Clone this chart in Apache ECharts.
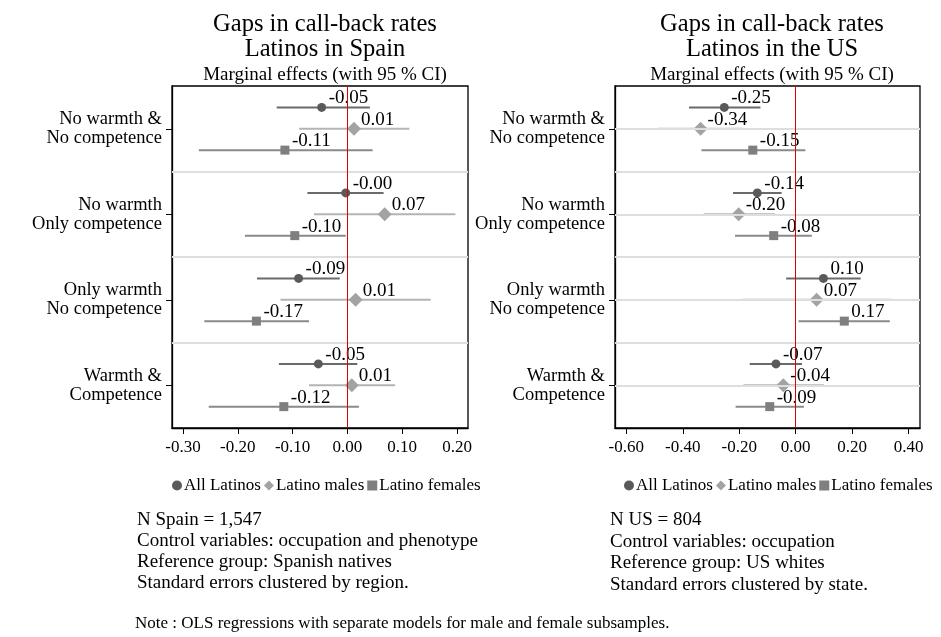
<!DOCTYPE html>
<html><head><meta charset="utf-8">
<script src="https://cdn.jsdelivr.net/npm/echarts@6/dist/echarts.min.js"></script>
<style>html,body{margin:0;padding:0;background:#fff}#c{width:941px;height:637px}</style>
</head><body><div id="c"></div>
<script>
const categories = ["No warmth &\nNo competence", "No warmth\nOnly competence", "Only warmth\nNo competence", "Warmth &\nCompetence"];
const seriesNames = ["All Latinos", "Latino males", "Latino females"];

// Spain
const esAllEst = [-0.047, -0.003, -0.089, -0.053];
const esAllLo  = [-0.129, -0.073, -0.165, -0.125];
const esAllHi  = [0.041, 0.066, -0.014, 0.018];
const esMaleEst = [0.012, 0.068, 0.015, 0.008];
const esMaleLo  = [-0.088, -0.061, -0.122, -0.070];
const esMaleHi  = [0.113, 0.197, 0.152, 0.087];
const esFemEst = [-0.114, -0.096, -0.166, -0.116];
const esFemLo  = [-0.271, -0.187, -0.261, -0.253];
const esFemHi  = [0.046, -0.003, -0.070, 0.021];

// US
const usAllEst = [-0.253, -0.136, 0.098, -0.070];
const usAllLo  = [-0.378, -0.222, -0.034, -0.163];
const usAllHi  = [-0.125, -0.050, 0.230, 0.022];
const usMaleEst = [-0.337, -0.202, 0.074, -0.044];
const usMaleLo  = [-0.488, -0.326, -0.188, -0.185];
const usMaleHi  = [-0.186, -0.073, 0.340, 0.100];
const usFemEst = [-0.152, -0.078, 0.172, -0.092];
const usFemLo  = [-0.334, -0.215, 0.010, -0.213];
const usFemHi  = [0.034, 0.057, 0.333, 0.029];

const esTicks = [-0.3, -0.2, -0.1, 0, 0.1, 0.2];
const usTicks = [-0.6, -0.4, -0.2, 0, 0.2, 0.4];

const notesES = ["N Spain = 1,547", "Control variables: occupation and phenotype", "Reference group: Spanish natives", "Standard errors clustered by region."];
const notesUS = ["N US = 804", "Control variables: occupation", "Reference group: US whites", "Standard errors clustered by state."];
const footNote = "Note : OLS regressions with separate models for male and female subsamples.";

const FONT = '"Liberation Serif", "Times New Roman", serif';
const markerColors = ['#5a5a5a', '#a3a3a3', '#7f7f7f'];
const lineColors = ['#6a6a6a', '#b4b4b4', '#8a8a8a'];
const symbols = ['circle', 'diamond', 'rect'];
const symSizes = [9, 14, 9];
const offsets = [-0.25, 0, 0.25];

function ciSeries(name, lo, hi, k, idx) {
  return {
    type: 'custom', name: name, xAxisIndex: idx, yAxisIndex: idx, z: 2,
    encode: {x: [0, 1], y: 2}, legendHoverLink: false,
    data: lo.map((v, i) => [v, hi[i], i + offsets[k]]),
    renderItem: function (params, api) {
      const y = api.value(2);
      const p1 = api.coord([api.value(0), y]);
      const p2 = api.coord([api.value(1), y]);
      return {type: 'line', shape: {x1: p1[0], y1: p1[1], x2: p2[0], y2: p2[1]},
        style: {stroke: lineColors[k], lineWidth: 2}};
    },
    tooltip: {show: false}
  };
}
function ptSeries(name, est, k, idx) {
  const s = symSizes[k];
  return {
    type: 'scatter', name: name, xAxisIndex: idx, yAxisIndex: idx, z: 4,
    symbol: symbols[k], symbolSize: s,
    itemStyle: {color: markerColors[k], opacity: 1},
    data: est.map((v, i) => [v, i + offsets[k]]),
    label: {show: true, position: [s / 2 + 7, s / 2 - 9], align: 'left', verticalAlign: 'middle',
      formatter: p => p.value[0].toFixed(2), fontFamily: FONT, fontSize: 19, color: '#000'},
    emphasis: {disabled: true}
  };
}
function refSeries(idx, gridAtCenters) {
  const lines = [{yAxis: 0.5}, {yAxis: 1.5}, {yAxis: 2.5}];
  if (gridAtCenters) lines.push({yAxis: 0}, {yAxis: 1}, {yAxis: 2}, {yAxis: 3});
  return [{
    type: 'line', xAxisIndex: idx, yAxisIndex: idx, data: [], z: 1, silent: true,
    markLine: {silent: true, symbol: 'none', label: {show: false},
      lineStyle: {color: '#dedede', width: 2, type: 'solid'}, data: lines}
  }, {
    type: 'line', xAxisIndex: idx, yAxisIndex: idx, data: [], z: 3, silent: true,
    markLine: {silent: true, symbol: 'none', label: {show: false},
      lineStyle: {color: '#e00000', width: 1, type: 'solid'}, data: [{xAxis: 0}]}
  }];
}

function xAxis(idx, min, max, ticks) {
  return {
    type: 'value', gridIndex: idx, min: min, max: max,
    axisLine: {show: true, onZero: false, lineStyle: {color: '#000', width: 1.3}},
    axisTick: {show: true, length: 6, customValues: ticks, lineStyle: {color: '#000'}},
    axisLabel: {customValues: ticks, formatter: v => v.toFixed(2), fontFamily: FONT, fontSize: 17, color: '#000', margin: 11},
    splitLine: {show: false}
  };
}
function yAxis(idx) {
  return {
    type: 'value', gridIndex: idx, min: -0.5, max: 3.5, inverse: true,
    axisLine: {show: true, onZero: false, lineStyle: {color: '#000', width: 1.3}},
    axisTick: {show: true, length: 6, customValues: [0, 1, 2, 3], lineStyle: {color: '#000'}},
    axisLabel: {customValues: [0, 1, 2, 3], formatter: v => categories[Math.round(v)], fontFamily: FONT,
      fontSize: 18.5, lineHeight: 19, color: '#000', margin: 10, align: 'right'},
    splitLine: {show: false}
  };
}

const chart = echarts.init(document.getElementById('c'), null, {renderer: 'canvas'});
const legendData = seriesNames.map((n, k) => ({name: n, icon: symbols[k], itemStyle: {color: markerColors[k]}}));
function legend(cx) {
  return {data: legendData, left: cx, top: 477, orient: 'horizontal', itemWidth: 10, itemHeight: 10, itemGap: 3,
    padding: 0, selectedMode: false, textStyle: {fontFamily: FONT, fontSize: 17, color: '#000', padding: [0, 0, 0, -3]}};
}

function textLines(lines, x, y0, dy) {
  return lines.map((t, i) => ({type: 'text', left: x, top: y0 + i * dy,
    style: {text: t, fontFamily: FONT, fontSize: 19, fill: '#000'}}));
}

const series = [].concat(
  refSeries(0, false), refSeries(1, true),
  ciSeries(seriesNames[0], esAllLo, esAllHi, 0, 0),
  ciSeries(seriesNames[1], esMaleLo, esMaleHi, 1, 0),
  ciSeries(seriesNames[2], esFemLo, esFemHi, 2, 0),
  ciSeries(seriesNames[0], usAllLo, usAllHi, 0, 1),
  ciSeries(seriesNames[1], usMaleLo, usMaleHi, 1, 1),
  ciSeries(seriesNames[2], usFemLo, usFemHi, 2, 1),
  ptSeries(seriesNames[0], esAllEst, 0, 0),
  ptSeries(seriesNames[1], esMaleEst, 1, 0),
  ptSeries(seriesNames[2], esFemEst, 2, 0),
  ptSeries(seriesNames[0], usAllEst, 0, 1),
  ptSeries(seriesNames[1], usMaleEst, 1, 1),
  ptSeries(seriesNames[2], usFemEst, 2, 1)
);

chart.setOption({
  animation: false,
  backgroundColor: '#fff',
  title: [
    {text: 'Gaps in call-back rates\nLatinos in Spain', left: 320, top: 7, textAlign: 'center',
      textStyle: {fontFamily: FONT, fontSize: 24.5, fontWeight: 'normal', lineHeight: 25, color: '#000'}},
    {text: 'Gaps in call-back rates\nLatinos in the US', left: 767, top: 7, textAlign: 'center',
      textStyle: {fontFamily: FONT, fontSize: 24.5, fontWeight: 'normal', lineHeight: 25, color: '#000'}},
    {text: 'Marginal effects (with 95 % CI)', left: 320, top: 61, textAlign: 'center',
      textStyle: {fontFamily: FONT, fontSize: 19, fontWeight: 'normal', color: '#000'}},
    {text: 'Marginal effects (with 95 % CI)', left: 767, top: 61, textAlign: 'center',
      textStyle: {fontFamily: FONT, fontSize: 19, fontWeight: 'normal', color: '#000'}}
  ],
  legend: [legend(172), legend(624)],
  grid: [
    {left: 172, top: 86, width: 296, height: 342, show: true, borderColor: '#000', borderWidth: 1.3, backgroundColor: 'transparent'},
    {left: 615, top: 86, width: 305, height: 342, show: true, borderColor: '#000', borderWidth: 1.3, backgroundColor: 'transparent'}
  ],
  xAxis: [xAxis(0, -0.32, 0.22, esTicks), xAxis(1, -0.64, 0.44, usTicks)],
  yAxis: [yAxis(0), yAxis(1)],
  series: series,
  graphic: [].concat(
    textLines(notesES, 137, 511, 20.8),
    textLines(notesUS, 610, 511, 21.5),
    [{type: 'text', left: 135, top: 615, style: {text: footNote, fontFamily: FONT, fontSize: 17, fill: '#000'}}]
  )
});
</script></body></html>
